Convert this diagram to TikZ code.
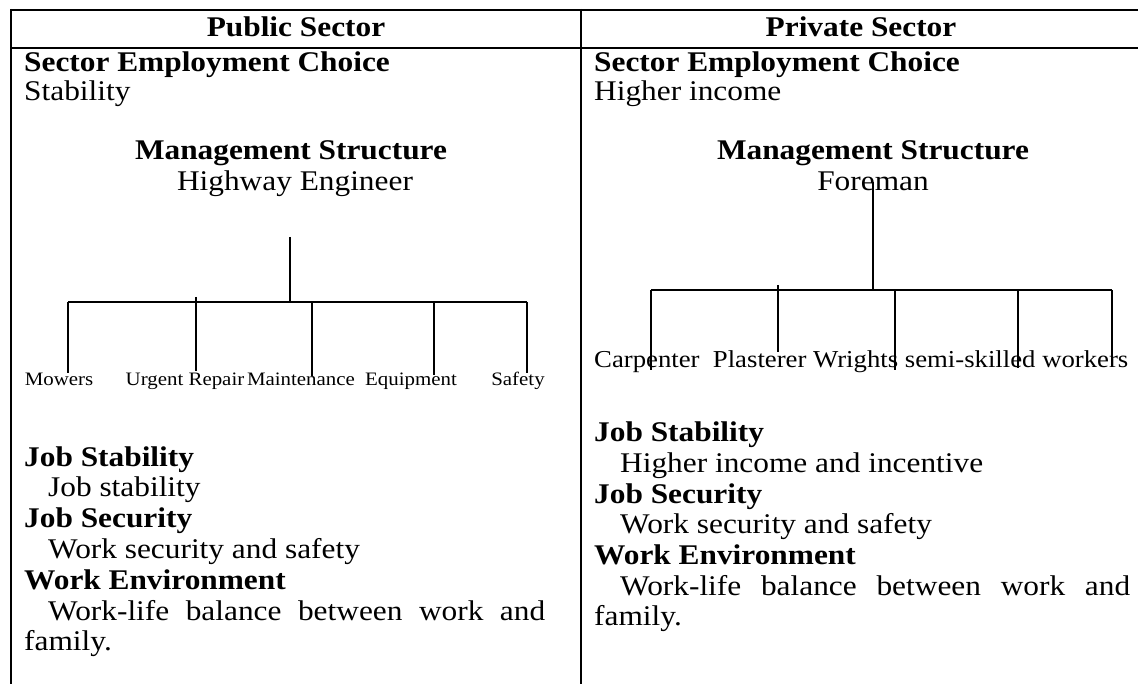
\documentclass[tikz,border=0pt]{standalone}
\usepackage{fontspec}
\setmainfont{Liberation Serif}[FakeStretch=1.1]
\begin{document}
\begin{tikzpicture}[x=1pt,y=-1pt,
  rule/.style={line width=2pt},
  conn/.style={line width=1.6pt},
  tx/.style={font=\fontsize{28.5}{31}\selectfont, inner sep=0pt, anchor=base west},
  bt/.style={font=\fontsize{28.5}{31}\selectfont\bfseries, inner sep=0pt, anchor=base west},
  btc/.style={font=\fontsize{28.5}{31}\selectfont\bfseries, inner sep=0pt, anchor=base},
  txc/.style={font=\fontsize{28.5}{31}\selectfont, inner sep=0pt, anchor=base},
  lbl/.style={font=\fontsize{19}{21}\selectfont, inner sep=0pt, anchor=base},
  lblr/.style={font=\fontsize{24.3}{26}\selectfont, inner sep=0pt, anchor=base west}]
\useasboundingbox (0,0) rectangle (1138,684);
\fill[white] (0,0) rectangle (1138,684);
% table rules
\draw[rule] (11,10) -- (1138,10);
\draw[rule] (11,48) -- (1138,48);
\draw[rule] (11,9) -- (11,684);
\draw[rule] (581,9) -- (581,684);
% headers
\node[btc] (hpub) at (296,37) {Public Sector};
\node[btc] (hpriv) at (861,37) {Private Sector};
% ---------- left column ----------
\node[bt] (lsec) at (24,72) {Sector Employment Choice};
\node[tx] (lsecv) at (24,101) {Stability};
\node[btc] (lms) at (291,160) {Management Structure};
\node[txc] (lhe) at (295,191) {Highway Engineer};
\coordinate (ltop) at (290,237);
\coordinate (lmid) at (290,302);
\node[lbl] (l1) at (59,386) {Mowers};
\node[lbl] (l2) at (185,386) {Urgent Repair};
\node[lbl] (l3) at (301,386) {Maintenance};
\node[lbl] (l4) at (411,386) {Equipment};
\node[lbl] (l5) at (518,386) {Safety};
\draw[conn] (ltop) -- (lmid);
\draw[conn] (68,302) -- (527,302);
\draw[conn] (68,302) -- (68,373);
\draw[conn] (196,297) -- (196,371);
\draw[conn] (312,302) -- (312,376);
\draw[conn] (434,302) -- (434,375);
\draw[conn] (527,302) -- (527,373);
\node[bt] (ljs) at (24,466) {Job Stability};
\node[tx] (ljsv) at (48,496) {Job stability};
\node[bt] (ljsec) at (24,527) {Job Security};
\node[tx] (ljsecv) at (48,558) {Work security and safety};
\node[bt] (lwe) at (24,589) {Work Environment};
\node[tx] (lwev) at (48,620) {\makebox[497pt][s]{Work-life balance between work and}};
\node[tx] (lwev2) at (24,650) {family.};
% ---------- right column ----------
\node[bt] (rsec) at (594,72) {Sector Employment Choice};
\node[tx] (rsecv) at (594,101) {Higher income};
\node[btc] (rms) at (873,160) {Management Structure};
\node[txc] (rfm) at (873,191) {Foreman};
\coordinate (rtop) at (873,182);
\coordinate (rmid) at (873,290);
\node[lblr] (rl) at (594,368) {Carpenter\ \ Plasterer Wrights semi-skilled workers};
\draw[conn] (rtop) -- (rmid);
\draw[conn] (651,290) -- (1112,290);
\draw[conn] (651,290) -- (651,370);
\draw[conn] (778,285) -- (778,352);
\draw[conn] (895,290) -- (895,370);
\draw[conn] (1018,290) -- (1018,368);
\draw[conn] (1112,290) -- (1112,366);
\node[bt] (rjs) at (594,442) {Job Stability};
\node[tx] (rjsv) at (620,472) {Higher income and incentive};
\node[bt] (rjsec) at (594,503) {Job Security};
\node[tx] (rjsecv) at (620,533) {Work security and safety};
\node[bt] (rwe) at (594,564) {Work Environment};
\node[tx] (rwev) at (620,595) {\makebox[510pt][s]{Work-life balance between work and}};
\node[tx] (rwev2) at (594,625) {family.};
\end{tikzpicture}
\end{document}
